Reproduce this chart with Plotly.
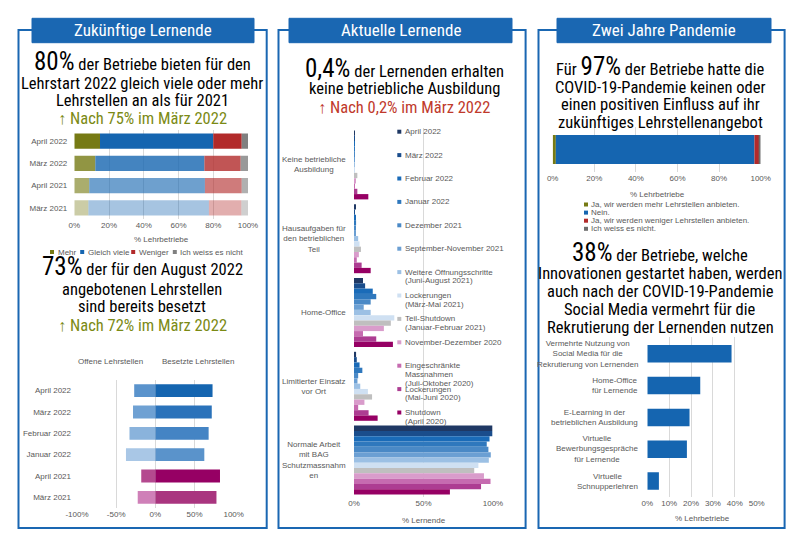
import plotly.graph_objects as go

W, H = 800, 544
def X(p): return p / W
def Y(p): return 1 - p / H

NARROW = "Roboto Condensed, Liberation Sans Narrow, Arial Narrow, sans-serif"
SANS = "Liberation Sans, Arial, sans-serif"
GREY = "#595959"
GRID = "#d9d9d9"
BLUE = "#1a67b2"
OLIVE = "#7b8a14"
RED = "#c0392b"

# ---------------- data ----------------
# left top: future apprentices
lt_periods = ["April 2022", "März 2022", "April 2021", "März 2021"]
lt_series = ["Mehr", "Gleich viele", "Weniger", "Ich weiss es nicht"]
lt_mehr = [14.8, 12.1, 8.6, 8.1]
lt_gleich = [65.2, 62.8, 66.6, 69.4]
lt_weniger = [16.4, 20.9, 21.2, 18.7]
lt_weiss = [3.6, 4.2, 3.6, 3.8]
lt_ticks = [0, 20, 40, 60, 80, 100]

# left bottom: open / filled apprenticeships
lb_periods = ["April 2022", "März 2022", "Februar 2022", "Januar 2022", "April 2021", "März 2021"]
lb_offen = [-27, -28.5, -33, -37.5, -18, -22.5]
lb_besetzt = [73, 72, 68, 62.5, 82.5, 78]
lb_ticks = [-100, -50, 0, 50, 100]
lb_ticktext = ["-100%", "-50%", "0%", "50%", "100%"]

# middle: current apprentices
mid_categories = ["Keine betriebliche Ausbildung", "Hausaufgaben für den betrieblichen Teil",
                  "Home-Office", "Limitierter Einsatz vor Ort", "Normale Arbeit mit BAG Schutzmassnahmen"]
mid_cat_labels = ["Keine betriebliche<br>Ausbildung", "Hausaufgaben für<br>den betrieblichen<br>Teil",
                  "Home-Office", "Limitierter Einsatz<br>vor Ort", "Normale Arbeit<br>mit BAG<br>Schutzmassnahm<br>en"]
mid_periods = ["April 2022", "März 2022", "Februar 2022", "Januar 2022", "Dezember 2021",
               "September-November 2021", "Weitere Öffnungsschritte\n(Juni-August 2021)",
               "Lockerungen\n(März-Mai 2021)", "Teil-Shutdown\n(Januar-Februar 2021)",
               "November-Dezember 2020", "Eingeschränkte\nMassnahmen\n(Juli-Oktober 2020)",
               "Lockerungen\n(Mai-Juni 2020)", "Shutdown\n(April 2020)"]
mid_keine = [0.4, 0.2, 0.3, 0.3, 0.5, 0.5, 0.3, 0.5, 2.4, 1.0, 0.6, 2.4, 10.3]
mid_hausaufgaben = [0.8, 0.5, 1.0, 1.5, 1.2, 1.0, 3.0, 4.0, 5.0, 3.5, 2.0, 5.5, 12.0]
mid_homeoffice = [6.5, 8.0, 13.5, 16.0, 12.0, 7.0, 12.0, 29.0, 26.5, 21.5, 6.5, 16.0, 28.0]
mid_limitiert = [1.5, 2.0, 4.0, 6.0, 3.0, 2.5, 4.5, 10.0, 13.0, 7.5, 3.0, 10.5, 17.0]
mid_normal = [99.5, 99.5, 97.5, 95.5, 96.7, 98.4, 97.0, 89.5, 86.5, 93.5, 98.2, 91.4, 69.0]
mid_ticks = [0, 50, 100]

# right top: effect of pandemic
rt_series = ["Ja, wir werden mehr Lehrstellen anbieten.", "Nein.",
             "Ja, wir werden weniger Lehrstellen anbieten.", "Ich weiss es nicht."]
rt_values = [1.5, 95.5, 2.4, 0.6]
rt_ticks = [0, 20, 40, 60, 80, 100]

# right bottom: innovations
rb_labels = ["Vermehrte Nutzung von<br>Social Media für die<br>Rekrutierung von Lernenden",
             "Home-Office<br>für Lernende", "E-Learning in der<br>betrieblichen Ausbildung",
             "Virtuelle<br>Bewerbungsgespräche<br>für Lernende", "Virtuelle<br>Schnupperlehren"]
rb_values = [38.5, 24.2, 19.3, 18.1, 5.3]
rb_ticks = [0, 10, 20, 30, 40, 50]

def pct(vals):
    return [f"{v}%" for v in vals]

# ---------------- styles ----------------
lt_rgb = [(118, 122, 20), (21, 101, 176), (178, 42, 42), (128, 128, 128)]
lt_alpha = [1.0, 0.8, 0.62, 0.38]
lb_pos_colors = ["#1565b0", "#2a72ba", "#4484c4", "#5a93cb", "#960064", "#a9357f"]
lb_neg_colors = ["#5a93cc", "#6fa1d3", "#8ab3dc", "#a9c7e6", "#b4498f", "#cf80b8"]
mid_colors = ["#1f3864", "#1a4d8c", "#1a6bb8", "#2f78bd", "#4a89c6", "#6b9fd3", "#9cc0e4",
              "#cfe0f2", "#bfbfbf", "#d99ccb", "#c66bb0", "#ad3d92", "#960064"]
rt_colors = ["#767a14", "#1565b0", "#b22a2a", "#6d6d6d"]

fig = go.Figure()

# left top stacked bars
cum = [0.0] * len(lt_periods)
for name, vals, rgb in zip(lt_series, [lt_mehr, lt_gleich, lt_weniger, lt_weiss], lt_rgb):
    fig.add_trace(go.Bar(
        y=lt_periods, x=vals, base=list(cum), orientation="h", name=name,
        marker=dict(color=[f"rgba({rgb[0]},{rgb[1]},{rgb[2]},{a})" for a in lt_alpha], line_width=0),
        width=0.68, offset=-0.34, xaxis="x", yaxis="y", showlegend=False))
    cum = [c + v for c, v in zip(cum, vals)]

# left bottom diverging bars
fig.add_trace(go.Bar(y=lb_periods, x=lb_offen, orientation="h", name="Offene Lehrstellen",
                     marker=dict(color=lb_neg_colors, line_width=0), width=0.6, offset=-0.3,
                     xaxis="x2", yaxis="y2", showlegend=False))
fig.add_trace(go.Bar(y=lb_periods, x=lb_besetzt, orientation="h", name="Besetzte Lehrstellen",
                     marker=dict(color=lb_pos_colors, line_width=0), width=0.6, offset=-0.3,
                     xaxis="x2", yaxis="y2", showlegend=False))

# middle grouped bars
mid_by_cat = [mid_keine, mid_hausaufgaben, mid_homeoffice, mid_limitiert, mid_normal]
for i, period in enumerate(mid_periods):
    fig.add_trace(go.Bar(
        y=mid_categories, x=[cat_vals[i] for cat_vals in mid_by_cat], orientation="h",
        name=period.replace("\n", " "), marker=dict(color=mid_colors[i], line_width=0),
        xaxis="x3", yaxis="y3", showlegend=False))

# right top single stacked bar
base = 0.0
for name, v, c in zip(rt_series, rt_values, rt_colors):
    fig.add_trace(go.Bar(y=["Lehrbetriebe"], x=[v], base=[base], orientation="h", name=name,
                         marker=dict(color=c, line_width=0), width=0.64, offset=-0.32,
                         xaxis="x4", yaxis="y4", showlegend=False))
    base += v

# right bottom bars
fig.add_trace(go.Bar(y=rb_labels, x=rb_values, orientation="h", marker=dict(color="#1565b0", line_width=0),
                     width=0.55, offset=-0.275, xaxis="x5", yaxis="y5", showlegend=False))

tickfont = dict(family=SANS, size=8, color=GREY)
def xax(dom, rng, **kw):
    d = dict(domain=[X(dom[0]), X(dom[1])], range=rng, showgrid=True, gridcolor=GRID, gridwidth=1,
             zeroline=False, showline=False, ticks="", tickfont=tickfont, fixedrange=True,
             automargin=False, tickmode="array")
    d.update(kw)
    return d
def yax(dom, **kw):
    d = dict(domain=[Y(dom[1]), Y(dom[0])], showgrid=False, zeroline=False, showline=False,
             ticks="", tickfont=tickfont, type="category", fixedrange=True, automargin=False)
    d.update(kw)
    return d

fig.update_layout(
    width=W, height=H, autosize=False, margin=dict(l=0, r=0, t=0, b=0, pad=0),
    paper_bgcolor="white", plot_bgcolor="rgba(0,0,0,0)",
    barmode="group", bargap=0.065, bargroupgap=0,
    xaxis=xax((74.3, 248), [0, 100], anchor="y", tickvals=lt_ticks, ticktext=pct(lt_ticks)),
    yaxis=yax((130, 219), anchor="x", autorange="reversed", ticklabelstandoff=6),
    xaxis2=xax((77, 233.7), [-100, 100], anchor="y2", tickvals=lb_ticks, ticktext=lb_ticktext),
    yaxis2=yax((380, 508), anchor="x2", autorange="reversed", ticklabelstandoff=5),
    xaxis3=xax((354, 493), [0, 100], anchor="y3", tickvals=mid_ticks, ticktext=pct(mid_ticks)),
    yaxis3=yax((128, 497), anchor="x3", autorange="reversed", showticklabels=False),
    xaxis4=xax((552.7, 760.7), [0, 100], anchor="y4", tickvals=rt_ticks, ticktext=pct(rt_ticks)),
    yaxis4=yax((127, 172), anchor="x4", range=[-0.5, 0.5], showticklabels=False),
    xaxis5=xax((647.3, 756.7), [0, 50], anchor="y5", tickvals=rb_ticks, ticktext=pct(rb_ticks)),
    yaxis5=yax((336.7, 497), anchor="x5", autorange="reversed", showticklabels=False),
)

shapes = []
ann = []

# panels
panels = [((18.5, 30, 266.7, 528), (32, 18.3, 254, 42.7), "Zukünftige Lernende"),
          ((278.5, 30, 525.6, 528), (289, 18.3, 512, 42.7), "Aktuelle Lernende"),
          ((538.5, 30, 784.6, 528), (557, 18.3, 771, 42.7), "Zwei Jahre Pandemie")]
for (bx0, by0, bx1, by1), (hx0, hy0, hx1, hy1), title in panels:
    shapes.append(dict(type="rect", xref="paper", yref="paper", x0=X(bx0), x1=X(bx1), y0=Y(by1), y1=Y(by0),
                       line=dict(color=BLUE, width=2), fillcolor="rgba(0,0,0,0)"))
    shapes.append(dict(type="rect", xref="paper", yref="paper", x0=X(hx0), x1=X(hx1), y0=Y(hy1), y1=Y(hy0),
                       line=dict(color=BLUE, width=1), fillcolor=BLUE))
    ann.append(dict(x=X((hx0 + hx1) / 2), y=Y((hy0 + hy1) / 2), text=title,
                    font=dict(family=NARROW, size=17, color="white")))

def big(t):
    return f"<span style='font-size:25px'>{t}</span>"

texts = [
    (142, 61, big("80%") + " der Betriebe bieten für den", "black"),
    (142, 83, "Lehrstart 2022 gleich viele oder mehr", "black"),
    (142, 100, "Lehrstellen an als für 2021", "black"),
    (142, 118, "↑ Nach 75% im März 2022", OLIVE),
    (142, 267, big("73%") + " der für den August 2022", "black"),
    (142, 289, "angebotenen Lehrstellen", "black"),
    (142, 306, "sind bereits besetzt", "black"),
    (142, 325, "↑ Nach 72% im März 2022", OLIVE),
    (404, 68, big("0,4%") + " der Lernenden erhalten", "black"),
    (404, 89, "keine betriebliche Ausbildung", "black"),
    (404, 108, "↑ Nach 0,2% im März 2022", RED),
    (660, 66, "Für " + big("97%") + " der Betriebe hatte die", "black"),
    (660, 87, "COVID-19-Pandemie keinen oder", "black"),
    (660, 105, "einen positiven Einfluss auf ihr", "black"),
    (660, 123, "zukünftiges Lehrstellenangebot", "black"),
    (660, 252, big("38%") + " der Betriebe, welche", "black"),
    (660, 273, "Innovationen gestartet haben, werden", "black"),
    (660, 291, "auch nach der COVID-19-Pandemie", "black"),
    (660, 309, "Social Media vermehrt für die", "black"),
    (660, 327, "Rekrutierung der Lernenden nutzen", "black"),
]
for x, y, t, c in texts:
    ann.append(dict(x=X(x), y=Y(y), text=t, font=dict(family=NARROW, size=16.5, color=c)))

small = dict(family=SANS, size=8, color=GREY)
# axis titles / headers
for x, y, t in [(161, 239, "% Lehrbetriebe"), (423.5, 520, "% Lernende"), (657, 194, "% Lehrbetriebe"),
                (702, 518, "% Lehrbetriebe"), (110.7, 361, "Offene Lehrstellen"),
                (198.3, 361, "Besetzte Lehrstellen")]:
    ann.append(dict(x=X(x), y=Y(y), text=t, font=small))

# category labels (middle and right bottom)
for cat, lab in zip(mid_categories, mid_cat_labels):
    ann.append(dict(xref="paper", yref="y3", x=X(354), y=cat, text=lab, xanchor="right", xshift=-6,
                    align="center", font=small))
for lab in rb_labels:
    ann.append(dict(xref="paper", yref="y5", x=X(647.3), y=lab, text=lab, xanchor="right", xshift=-7,
                    align="center", font=small))

# left top legend
for (sx, tx), name, rgb in zip([(52, 55.5), (82.2, 85.7), (133.2, 136.5), (174.8, 178)], lt_series, lt_rgb):
    shapes.append(dict(type="rect", xref="paper", yref="paper", x0=X(sx - 2), x1=X(sx + 2),
                       y0=Y(254), y1=Y(250), line_width=0, fillcolor=f"rgb{rgb}"))
    ann.append(dict(x=X(tx), y=Y(252), text=name, xanchor="left", font=small))

# middle legend
for i, (period, col) in enumerate(zip(mid_periods, mid_colors)):
    y0 = 131.7 + 23.4 * i
    shapes.append(dict(type="rect", xref="paper", yref="paper", x0=X(397.3), x1=X(401.3),
                       y0=Y(y0 + 2), y1=Y(y0 - 2), line_width=0, fillcolor=col))
    for j, line in enumerate(period.split("\n")):
        ann.append(dict(x=X(403.3), y=Y(y0 + 8.8 * j), text=line, xanchor="left", font=small))

# right top legend
for i, (name, col) in enumerate(zip(rt_series, rt_colors)):
    y0 = 204.5 + 8.1 * i
    shapes.append(dict(type="rect", xref="paper", yref="paper", x0=X(584), x1=X(588),
                       y0=Y(y0 + 2), y1=Y(y0 - 2), line_width=0, fillcolor=col))
    ann.append(dict(x=X(589), y=Y(y0), text=name, xanchor="left", font=small))

for a in ann:
    a.setdefault("xref", "paper")
    a.setdefault("yref", "paper")
    a.setdefault("showarrow", False)
    a.setdefault("xanchor", "center")
    a.setdefault("yanchor", "middle")

fig.update_layout(shapes=shapes, annotations=ann)
fig.write_html("out.html")
